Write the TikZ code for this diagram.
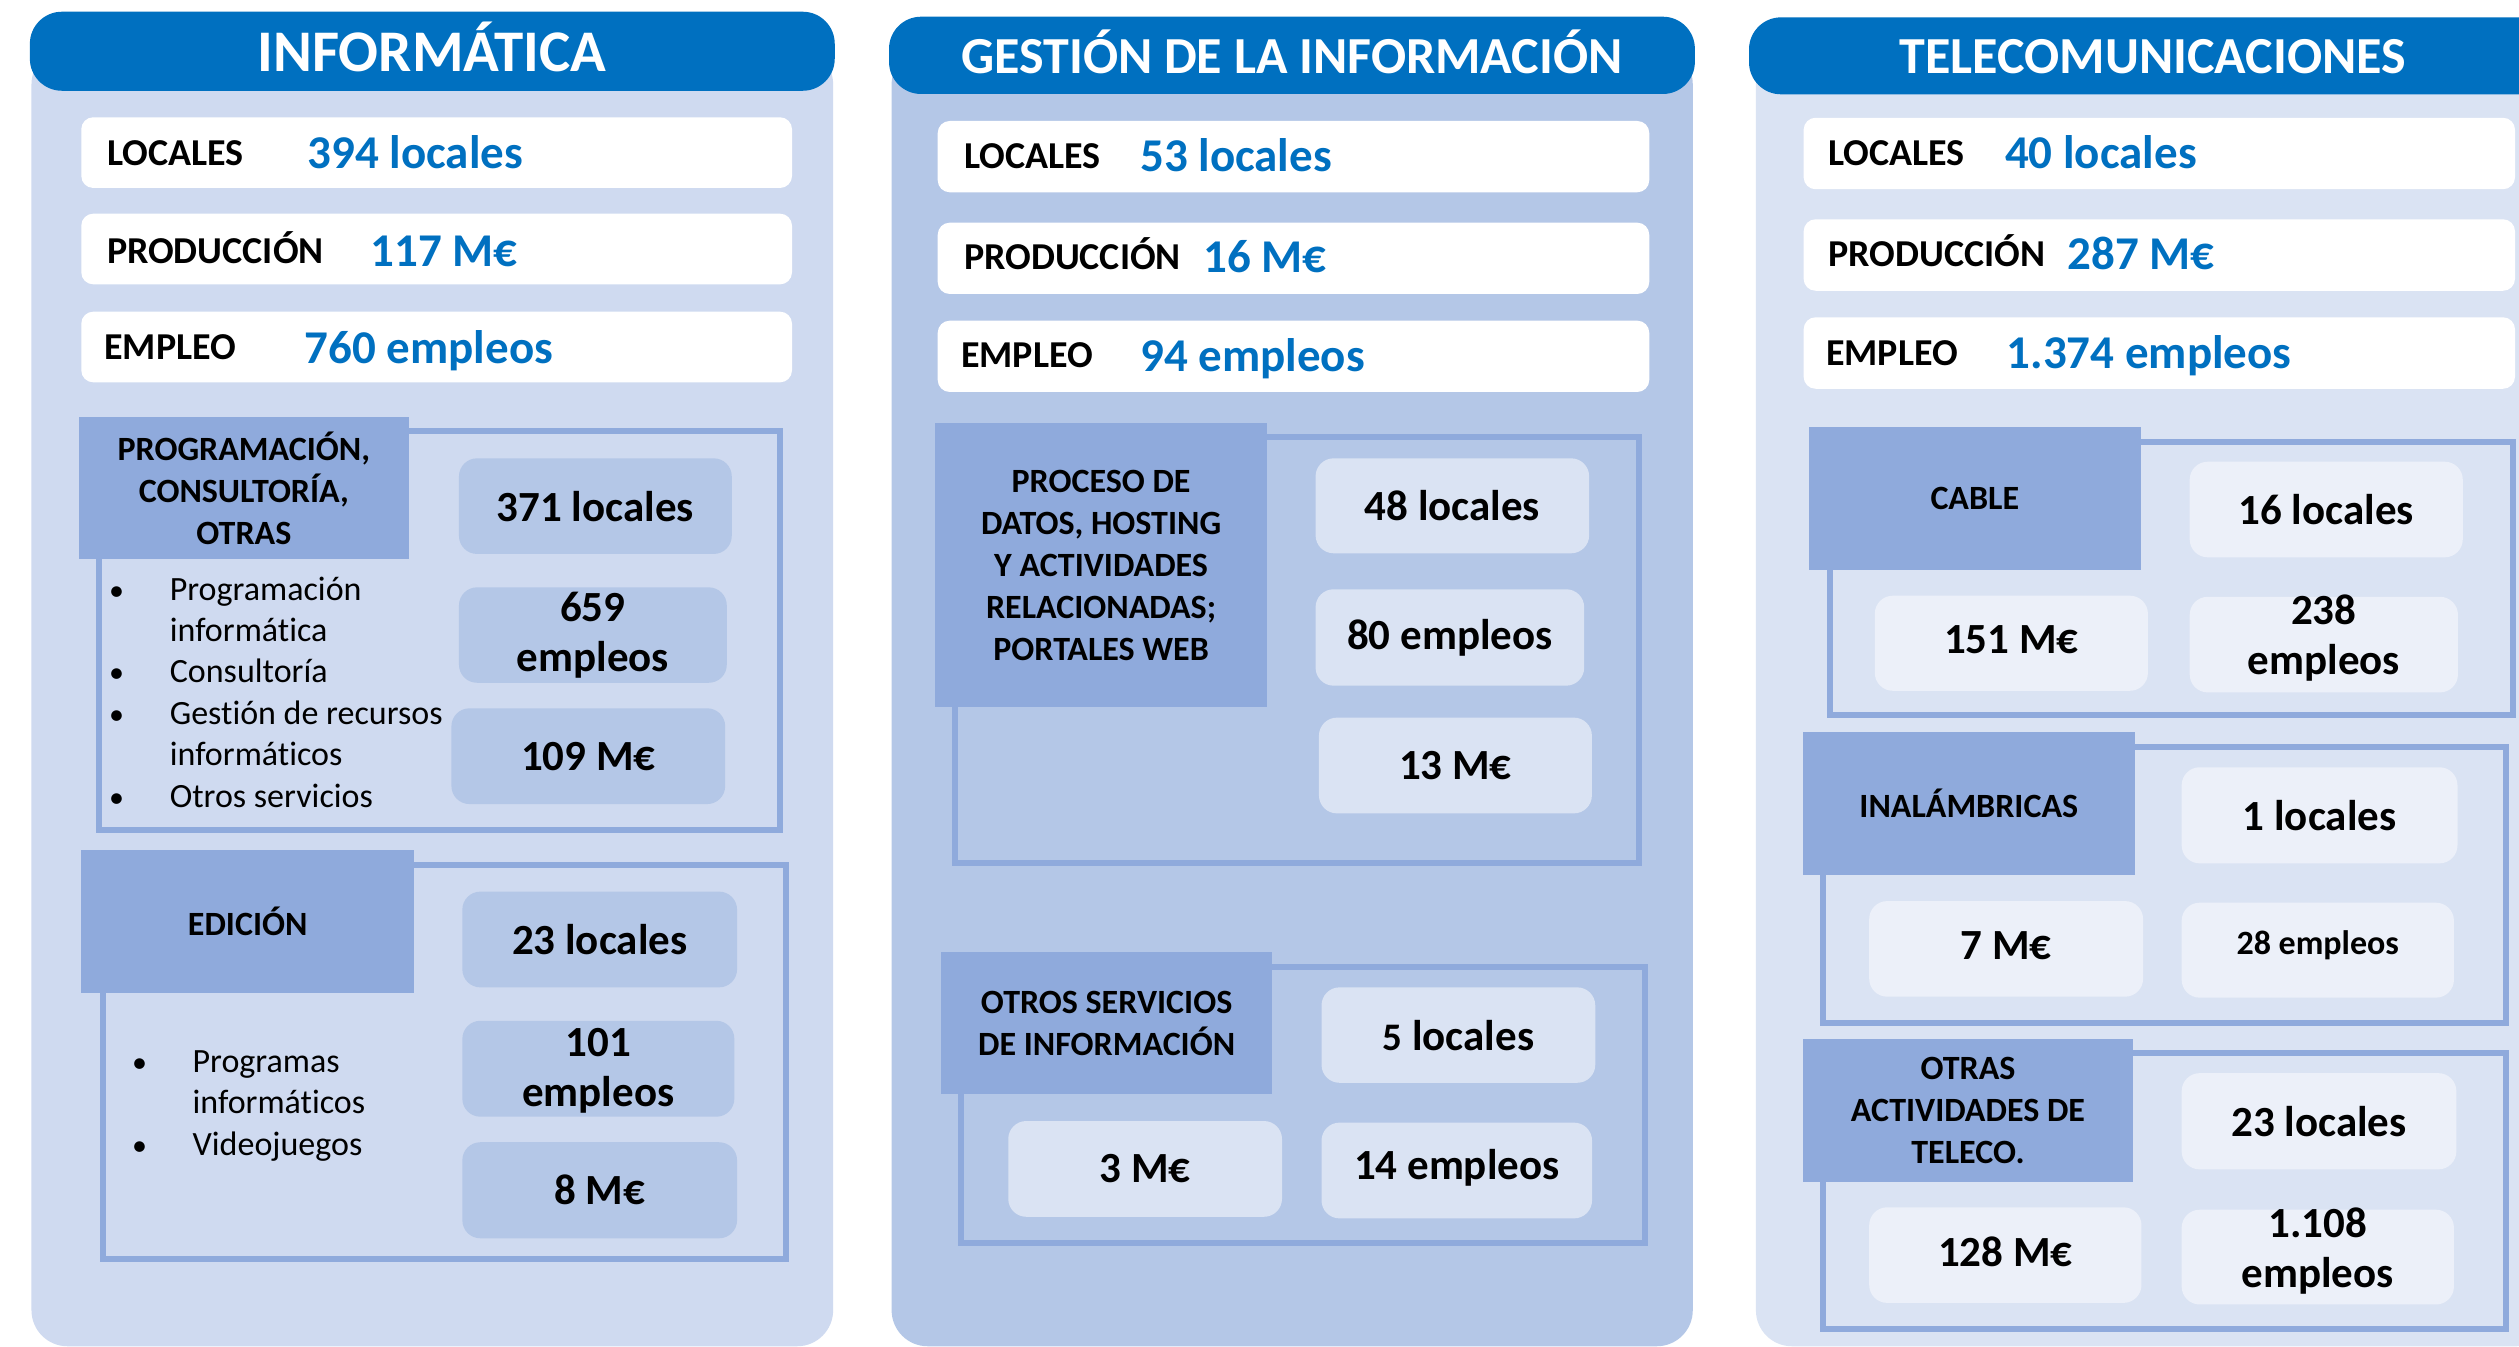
\documentclass[tikz,border=0pt]{standalone}
\usepackage{fontspec}
\setmainfont{Carlito}[Ligatures={NoCommon}]
\definecolor{hdrblue}{HTML}{0070C0}
\definecolor{panelA}{HTML}{CFDAF0}
\definecolor{panelB}{HTML}{B4C7E7}
\definecolor{panelC}{HTML}{DAE3F3}
\definecolor{subhdr}{HTML}{8FAADC}
\definecolor{statA}{HTML}{B4C7E7}
\definecolor{statB}{HTML}{DAE3F3}
\definecolor{statC}{HTML}{ECF0F9}
\tikzset{
 panelshape/.style={rounded corners=36pt},
 hdr/.style={fill=hdrblue, rounded corners=32pt},
 wbox/.style={fill=white, rounded corners=12pt},
 frameline/.style={draw=subhdr, line width=6pt},
 subbox/.style={fill=subhdr},
 title/.style={anchor=base, text=white, inner sep=0pt, font=\bfseries\fontsize{52}{60}\selectfont},
 lbl/.style={anchor=base west, inner sep=0pt, font=\bfseries\fontsize{38}{44}\selectfont},
 val/.style={anchor=base west, inner sep=0pt, text=hdrblue, font=\bfseries\fontsize{47}{54}\selectfont},
 subtext/.style={align=center, inner sep=0pt, font=\bfseries\fontsize{34}{42}\selectfont},
 stattext/.style={align=center, inner sep=0pt, font=\bfseries\fontsize{43}{50}\selectfont},
 bul/.style={anchor=base, inner sep=0pt, font=\fontsize{30}{41}\selectfont},
 bultext/.style={anchor=base west, inner sep=0pt, font=\fontsize{34}{41}\selectfont},
}
\newcommand\statcell[8][0]{%
 \fill[#3, rounded corners=18pt] (#4,#5) rectangle (#6,#7);
 \node[stattext] (#2) at ({(#4+#6)/2},{(#5+#7)/2+#1}) {#8};}
\newcommand\subhead[6]{%
 \fill[subbox] (#2,#3) rectangle (#4,#5);
 \node[subtext] (#1) at ({(#2+#4)/2},{(#3+#5)/2}) {#6};}
\begin{document}
\begin{tikzpicture}[x=1.6065pt,y=-1.6065pt]
\path[use as bounding box] (0,0) rectangle (1568,838);
\clip (0,0) rectangle (1568,838);
\fill[white] (0,0) rectangle (1568,838);

% panels
\fill[panelA, panelshape] (19.6,30) rectangle (518.6,838);
\fill[panelB, panelshape] (555,30) rectangle (1053.7,838);
\fill[panelC, panelshape] (1093,30) rectangle (1589,838);

% headers
\fill[hdr] (18.6,7.3) rectangle (519.6,56.5);
\node[title, font=\bfseries\fontsize{59}{66}\selectfont] (t1) at (269,44.6) {INFORMÁTICA};
\fill[hdr] (553.4,10.4) rectangle (1055,58.5);
\node[title] (t2) at (804.2,45.6) {GESTIÓN DE LA INFORMACIÓN};
\fill[hdr] (1088.7,10.8) rectangle (1591,58.7);
\node[title] (t3) at (1340,45.8) {TELECOMUNICACIONES};

% white summary boxes
\fill[wbox] (50.6,73) rectangle (493,117);
\fill[wbox] (50.6,133) rectangle (493,177);
\fill[wbox] (50.6,194) rectangle (493,238);
\fill[wbox] (583.7,75.3) rectangle (1026.6,119.7);
\fill[wbox] (583.7,138.6) rectangle (1026.6,183);
\fill[wbox] (583.7,199.6) rectangle (1026.6,244);
\fill[wbox] (1122.7,73.3) rectangle (1565.5,117.8);
\fill[wbox] (1122.7,136.5) rectangle (1565.5,181);
\fill[wbox] (1122.7,197.5) rectangle (1565.5,242);

\node[lbl] (l1a) at (66.5,103) {LOCALES};
\node[val] (v1a) at (191.3,105) {394 locales};
\node[lbl] (l1b) at (66.5,164) {PRODUCCIÓN};
\node[val] (v1b) at (230.4,166) {117 M€};
\node[lbl] (l1c) at (64.8,224) {EMPLEO};
\node[val] (v1c) at (189.6,226) {760 empleos};

\node[lbl] (l2a) at (600,104.8) {LOCALES};
\node[val] (v2a) at (709.6,106.8) {53 locales};
\node[lbl] (l2b) at (600,167.7) {PRODUCCIÓN};
\node[val] (v2b) at (749,169.7) {16 M€};
\node[lbl] (l2c) at (598.2,229) {EMPLEO};
\node[val] (v2c) at (709.6,231) {94 empleos};

\node[lbl] (l3a) at (1138,103) {LOCALES};
\node[val] (v3a) at (1248,105) {40 locales};
\node[lbl] (l3b) at (1138,166) {PRODUCCIÓN};
\node[val] (v3b) at (1287,168) {287 M€};
\node[lbl] (l3c) at (1136.6,227.6) {EMPLEO};
\node[val] (v3c) at (1249,229.6) {1.374 empleos};

% frames
\draw[frameline] (61.4,268.3) rectangle (485.8,516.7);
\draw[frameline] (64.1,538.4) rectangle (489.2,783.9);
\draw[frameline] (594.5,272.2) rectangle (1020,537.4);
\draw[frameline] (598.2,601.7) rectangle (1024,773.5);
\draw[frameline] (1138.8,275) rectangle (1564,445);
\draw[frameline] (1134.7,464.8) rectangle (1560,636.6);
\draw[frameline] (1134.7,655.7) rectangle (1560,827.5);

% sub headers
\subhead{s11}{48.9}{259.8}{254.7}{348.2}{PROGRAMACIÓN,\\CONSULTORÍA,\\OTRAS}
\subhead{s12}{50.6}{529}{257.8}{618}{EDICIÓN}
\subhead{s21}{582}{263.5}{788.8}{440.3}{PROCESO DE\\DATOS, HOSTING\\Y ACTIVIDADES\\RELACIONADAS;\\PORTALES WEB}
\subhead{s22}{585.8}{592.6}{791.9}{681.2}{OTROS SERVICIOS\\DE INFORMACIÓN}
\subhead{s31}{1125.8}{266}{1332.7}{354.8}{CABLE}
\subhead{s32}{1122}{455.8}{1329}{544.5}{INALÁMBRICAS}
\subhead{s33}{1122}{647}{1328}{735.6}{OTRAS\\ACTIVIDADES DE\\TELECO.}

% stat boxes
\statcell{a1}{statA}{285.7}{285.3}{455.5}{344.8}{371 locales}
\statcell{a2}{statA}{285.7}{365.6}{452.4}{425}{659\\empleos}
\statcell{a3}{statA}{281}{440.9}{451.4}{500.5}{109 M€}
\statcell{a4}{statA}{287.8}{555}{458.8}{614.6}{23 locales}
\statcell[1]{a5}{statA}{287.8}{635.4}{457.1}{695.1}{101\\empleos}
\statcell{a6}{statA}{287.8}{711}{458.8}{770.8}{8 M€}

\statcell{b1}{statB}{818.9}{285.3}{989.2}{344.4}{48 locales}
\statcell{b2}{statB}{818.9}{366.8}{986.1}{426.8}{80 empleos}
\statcell{b3}{statB}{821}{446.7}{990.9}{506.3}{13 M€}
\statcell{b4}{statB}{822.6}{614.6}{993}{674}{{\fontsize{39}{44}\selectfont 5} locales}
\statcell{b5}{statB}{627.6}{697.8}{798}{757.4}{3 M€}
\statcell[-2]{b6}{statB}{822.6}{698.8}{991}{758.4}{14 empleos}

\statcell{c1}{statC}{1363}{287.4}{1533}{346.9}{16 locales}
\statcell[-2]{c2}{statC}{1167}{370.8}{1337}{430}{151 M€}
\statcell[-4]{c3}{statC}{1363}{371.5}{1530}{431}{238\\empleos}
\statcell{c4}{statC}{1358}{477.6}{1529.7}{537.4}{1 locales}
\statcell[-2]{c5}{statC}{1163.5}{560.9}{1334}{620.4}{7 M€}
\statcell[-3]{c6}{statC}{1358}{561.9}{1527.5}{621}{{\fontsize{34}{40}\selectfont 28 empleos}}
\statcell{c7}{statC}{1358}{668}{1529}{727.9}{23 locales}
\statcell[-2]{c8}{statC}{1163.5}{751.5}{1333}{811}{128 M€}
\statcell[-4]{c9}{statC}{1358}{753}{1527.5}{812}{1.108\\empleos}

% bullet lists
\node[bul] (p1) at (72.5,373.5) {•};
\node[bultext] (q1) at (105.6,373.5) {Programación};
\node[bultext] (q2) at (105.6,399.3) {informática};
\node[bul] (p3) at (72.5,425.1) {•};
\node[bultext] (q3) at (105.6,425.1) {Consultoría};
\node[bul] (p4) at (72.5,450.9) {•};
\node[bultext] (q4) at (105.6,450.9) {Gestión de recursos};
\node[bultext] (q5) at (105.6,476.7) {informáticos};
\node[bul] (p6) at (72.5,502.5) {•};
\node[bultext] (q6) at (105.6,502.5) {Otros servicios};

\node[bul] (r1) at (86.9,667.5) {•};
\node[bultext] (u1) at (119.8,667.5) {Programas};
\node[bultext] (u2) at (119.8,693.3) {informáticos};
\node[bul] (r3) at (86.9,719) {•};
\node[bultext] (u3) at (119.8,719) {Videojuegos};
\end{tikzpicture}
\end{document}
